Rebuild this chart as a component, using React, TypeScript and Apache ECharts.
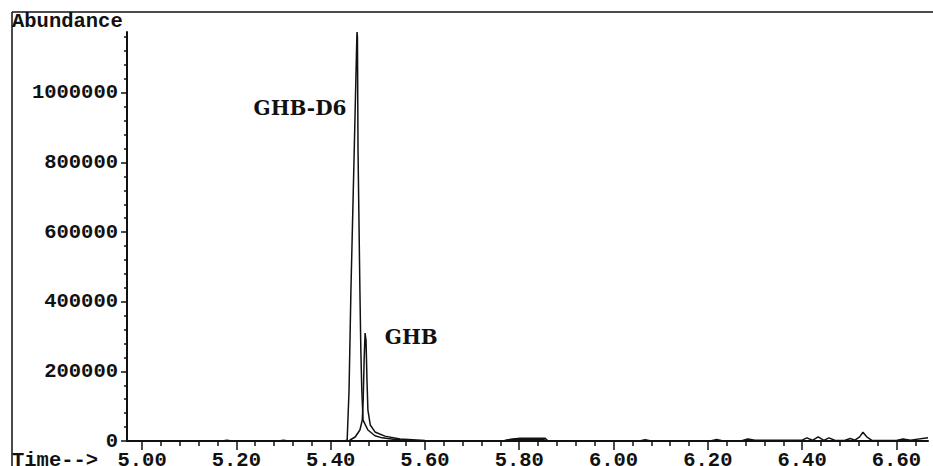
import React, { useEffect, useRef } from "react";
import * as echarts from "echarts";

// Retention time (min) / abundance for the two traces
const d6Time = [4.97, 5.43, 5.435, 5.439, 5.443, 5.45, 5.4555, 5.456, 5.4568, 5.458, 5.462, 5.464, 5.466, 5.4687, 5.479, 5.494, 5.509, 5.537, 5.57, 5.62, 5.766, 5.78, 5.8, 5.85, 5.858, 6.667];
const d6Abund = [0, 0, 3000, 147000, 434000, 836000, 1160000, 1175000, 1160000, 836000, 434000, 261000, 147000, 60000, 31600, 15000, 9000, 4000, 1500, 0, 0, 4000, 5000, 5000, 0, 0];

const ghbTime = [4.97, 5.17, 5.18, 5.19, 5.29, 5.3, 5.31, 5.44, 5.441, 5.452, 5.462, 5.467, 5.469, 5.471, 5.473, 5.475, 5.477, 5.479, 5.484, 5.494, 5.515, 5.547, 5.6, 5.65, 5.766, 5.787, 5.802, 5.855, 5.861, 6.055, 6.067, 6.08, 6.205, 6.219, 6.232, 6.27, 6.285, 6.3, 6.4, 6.41, 6.422, 6.434, 6.446, 6.457, 6.47, 6.49, 6.502, 6.512, 6.522, 6.529, 6.537, 6.548, 6.6, 6.614, 6.63, 6.667];
const ghbAbund = [0, 0, 2500, 0, 0, 2500, 0, 0, 2900, 11500, 31600, 60000, 118000, 233000, 310000, 290000, 175000, 89000, 46000, 26000, 14000, 6000, 1500, 0, 0, 6000, 8000, 8000, 0, 0, 4000, 0, 0, 4500, 0, 0, 6000, 2500, 2500, 9000, 2000, 12000, 2000, 9000, 1500, 1500, 7000, 2500, 12000, 25000, 12000, 2000, 1500, 6000, 2500, 9000];

const xMajorTicks = [5.0, 5.2, 5.4, 5.6, 5.8, 6.0, 6.2, 6.4, 6.6];
const xMinorTicks = [5.04, 5.08, 5.12, 5.16, 5.24, 5.28, 5.32, 5.36, 5.44, 5.48, 5.52, 5.56, 5.64, 5.68, 5.72, 5.76, 5.84, 5.88, 5.92, 5.96, 6.04, 6.08, 6.12, 6.16, 6.24, 6.28, 6.32, 6.36, 6.44, 6.48, 6.52, 6.56, 6.64];
const yMajorTicks = [0, 200000, 400000, 600000, 800000, 1000000];
const yMinorTicks = [40000, 80000, 120000, 160000, 240000, 280000, 320000, 360000, 440000, 480000, 520000, 560000, 640000, 680000, 720000, 760000, 840000, 880000, 920000, 960000, 1040000, 1080000, 1120000, 1160000];

const peakLabels = [
  { name: "GHB-D6", time: 5.335, abund: 957000 },
  { name: "GHB", time: 5.571, abund: 299000 },
];

const X_MIN = 4.968;
const X_MAX = 6.667;
const Y_MAX = 1175000;

const INK = "#111";
const MONO = "'Liberation Mono', 'DejaVu Sans Mono', monospace";

export default function App() {
  const ref = useRef<HTMLDivElement>(null);

  useEffect(() => {
    if (!ref.current) return;
    const chart = echarts.init(ref.current, null, { renderer: "svg" });
    const zip = (t: number[], v: number[]) => t.map((x, i) => [x, v[i]]);
    const labelStyle = {
      color: INK,
      fontFamily: MONO,
      fontWeight: "bold" as const,
      fontSize: 20.5,
    };
    chart.setOption({
      animation: false,
      backgroundColor: "#ffffff",
      grid: { left: 127, right: 5, top: 32, bottom: 25, containLabel: false, outerBoundsMode: "none" },
      xAxis: [
        {
          type: "value",
          min: X_MIN,
          max: X_MAX,
          position: "bottom",
          splitLine: { show: false },
          axisLine: { show: true, onZero: false, lineStyle: { color: INK, width: 2 } },
          axisTick: { show: true, customValues: xMajorTicks, length: 9, lineStyle: { color: INK, width: 1.5 } },
          axisLabel: {
            show: true,
            customValues: xMajorTicks,
            formatter: (v: number) => v.toFixed(2),
            margin: 9,
            ...labelStyle,
          },
        },
        {
          type: "value",
          min: X_MIN,
          max: X_MAX,
          position: "bottom",
          splitLine: { show: false },
          axisLine: { show: false, onZero: false },
          axisTick: { show: true, customValues: xMinorTicks, length: 5, lineStyle: { color: INK, width: 1.5 } },
          axisLabel: { show: false },
        },
      ],
      yAxis: [
        {
          type: "value",
          min: 0,
          max: Y_MAX,
          position: "left",
          splitLine: { show: false },
          axisLine: { show: true, lineStyle: { color: INK, width: 2 } },
          axisTick: { show: true, customValues: yMajorTicks, length: 6, lineStyle: { color: INK, width: 1.5 } },
          axisLabel: {
            show: true,
            customValues: yMajorTicks,
            formatter: (v: number) => String(v),
            margin: 9,
            ...labelStyle,
          },
        },
        {
          type: "value",
          min: 0,
          max: Y_MAX,
          position: "left",
          splitLine: { show: false },
          axisLine: { show: false },
          axisTick: { show: true, customValues: yMinorTicks, length: 3, lineStyle: { color: INK, width: 1.5 } },
          axisLabel: { show: false },
        },
      ],
      series: [
        {
          name: "GHB-D6",
          type: "line",
          xAxisIndex: 0,
          yAxisIndex: 0,
          data: zip(d6Time, d6Abund),
          showSymbol: false,
          lineStyle: { color: INK, width: 1.5 },
          markPoint: {
            symbol: "circle",
            symbolSize: 1,
            itemStyle: { color: "rgba(0,0,0,0)" },
            label: {
              show: true,
              position: "inside",
              color: INK,
              fontFamily: "'DejaVu Serif', serif",
              fontWeight: "bold",
              fontSize: 20,
              formatter: (p: any) => p.name,
            },
            data: peakLabels.map((p) => ({ name: p.name, coord: [p.time, p.abund] })),
          },
        },
        {
          name: "GHB",
          type: "line",
          xAxisIndex: 0,
          yAxisIndex: 0,
          data: zip(ghbTime, ghbAbund),
          showSymbol: false,
          lineStyle: { color: INK, width: 1.5 },
        },
      ],
      graphic: [
        { type: "line", shape: { x1: 12, y1: 12, x2: 933, y2: 12 }, style: { stroke: INK, lineWidth: 1.5 } },
        { type: "line", shape: { x1: 12, y1: 12, x2: 12, y2: 466 }, style: { stroke: INK, lineWidth: 1.5 } },
        {
          type: "text",
          x: 12,
          y: 21,
          style: { text: "Abundance", fill: INK, font: `bold 20.5px ${MONO}`, textVerticalAlign: "middle" },
        },
        {
          type: "text",
          x: 12,
          y: 460,
          style: { text: "Time-->", fill: INK, font: `bold 20.5px ${MONO}`, textVerticalAlign: "middle" },
        },
      ],
    });
    return () => chart.dispose();
  }, []);

  return (
    <div
      ref={ref}
      style={{ position: "absolute", left: 0, top: 0, width: 933, height: 466 }}
    />
  );
}
